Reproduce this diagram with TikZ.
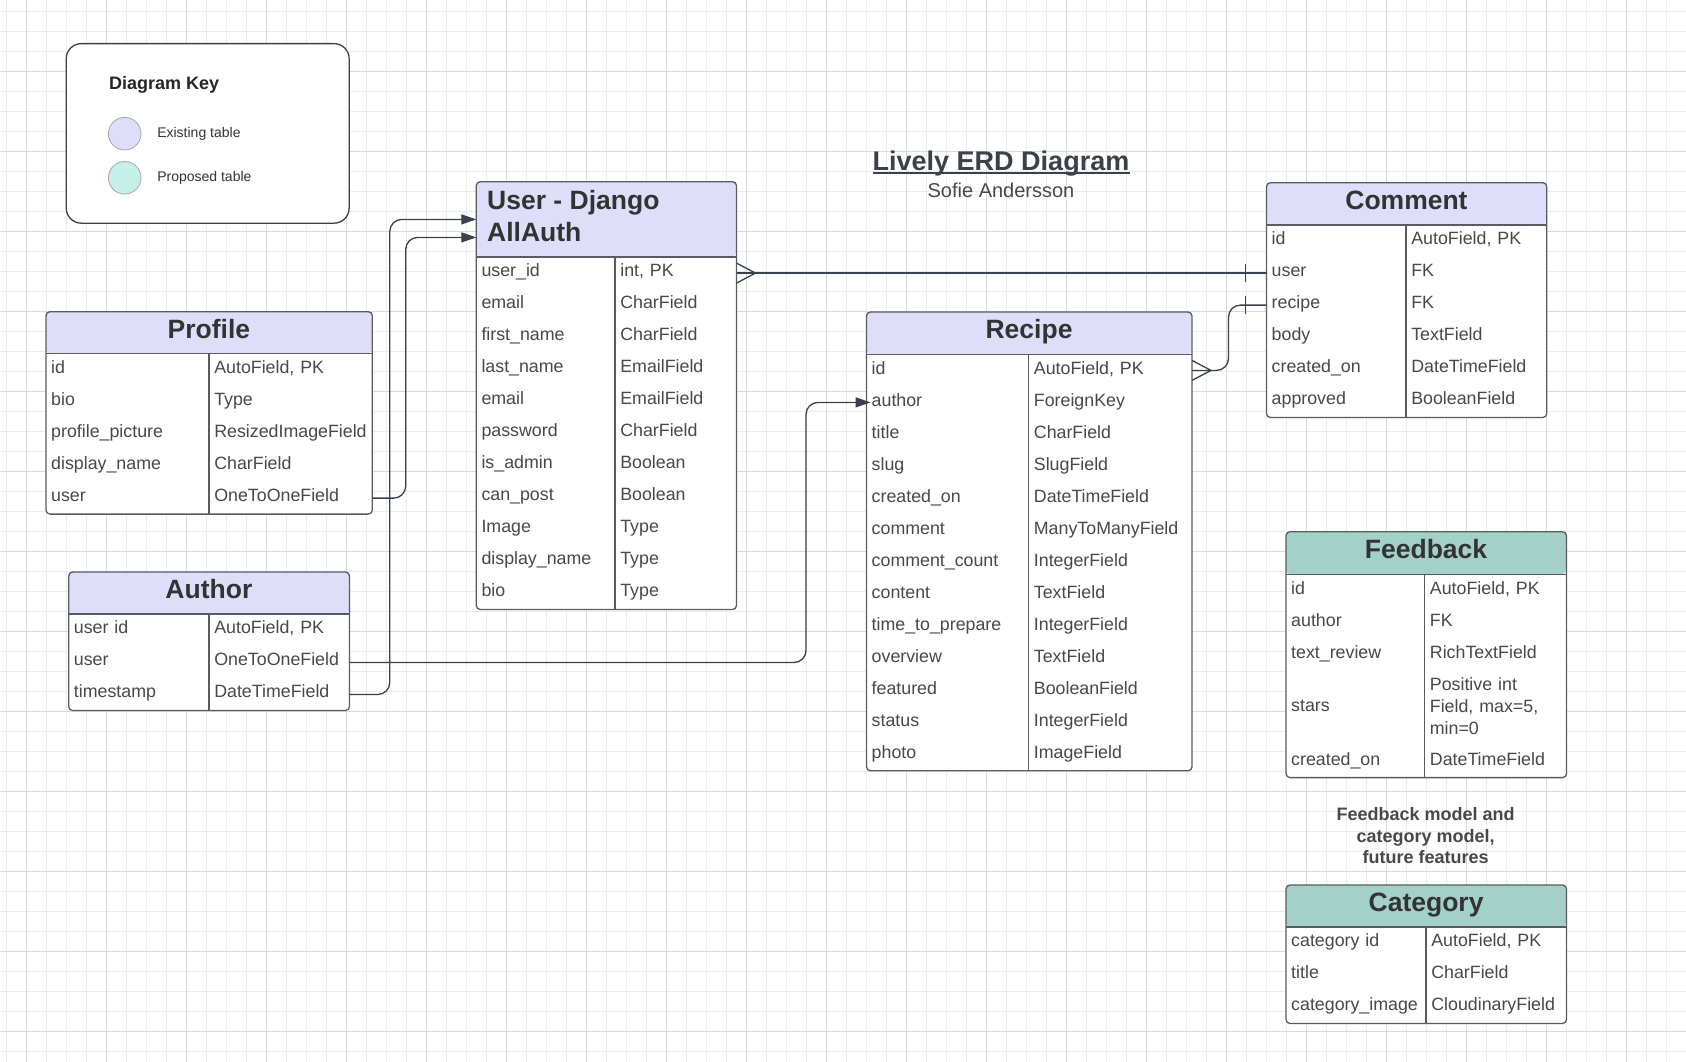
\documentclass[tikz,border=0pt]{standalone}
\usepackage{fontspec}
\setmainfont{Liberation Sans}
\usepackage{tikz}
\usetikzlibrary{arrows.meta}
\usetikzlibrary{positioning}
\definecolor{oldHead}{RGB}{222,222,250}
\definecolor{newHead}{RGB}{163,208,200}
\definecolor{newDot}{RGB}{196,240,232}
\definecolor{lineDark}{RGB}{58,65,74}
\definecolor{rimGray}{RGB}{88,92,98}
\definecolor{textDark}{RGB}{51,51,51}
\definecolor{textGray}{RGB}{72,72,72}
\definecolor{gridMinor}{RGB}{236,236,236}
\definecolor{gridMajor}{RGB}{218,218,218}
\newcommand{\headfont}{\fontsize{26.5}{31.7}\selectfont\bfseries}
\newcommand{\fieldfont}{\fontsize{17.8}{32}\selectfont\hyphenpenalty=10000\relax}
\newcommand{\rowstrut}{\rule[-12.4pt]{0pt}{32pt}}
\tikzstyle{headbox} = [rounded corners=4pt, inner sep=0pt, anchor=north west, font=\headfont, text=textDark]
\tikzstyle{oldhead} = [headbox, fill=oldHead, text height=19pt, text depth=8pt]
\tikzstyle{newhead} = [headbox, fill=newHead, text height=19pt, text depth=8pt]
\tikzstyle{cellbox} = [fill=white, inner xsep=5pt, inner ysep=0pt, anchor=north west, align=left, text=textGray]
\tikzstyle{fields} = [cellbox, font=\fieldfont, execute at begin node=\rowstrut, execute at end node=\rowstrut]
\tikzstyle{tablerim} = [draw=rimGray, line width=1.3pt, rounded corners=4pt]
\tikzstyle{divider} = [draw=rimGray, line width=1.3pt]
\tikzstyle{link} = [draw=lineDark, line width=1.3pt]
\tikzstyle{arrowlink} = [link, rounded corners=12pt, -{Triangle[length=15pt,width=10pt]}]
\tikzstyle{keydot} = [circle, draw=black!35, line width=0.8pt, minimum size=32.6pt]
\tikzstyle{keytext} = [font=\fontsize{14}{17}\selectfont, text=textDark]
\tikzset{
  crowfoot/.pic={\draw[link] (0,-10) -- (19,0) -- (0,10);},
  onebar/.pic={\draw[link] (0,-9) -- (0,9);}
}

\begin{document}
\begin{tikzpicture}[x=1pt, y=-1pt, every node/.style={inner sep=0pt}]
% background and grid
\fill[white] (0,0) rectangle (1686,1062);
\useasboundingbox (0,0) rectangle (1686,1062);
\foreach \gx in {6.7,26.7,...,1686} \draw[gridMinor, line width=1pt] (\gx,0) -- (\gx,1062);
\foreach \gy in {11.7,31.7,...,1062} \draw[gridMinor, line width=1pt] (0,\gy) -- (1686,\gy);
\foreach \gx in {26.7,106.7,...,1686} \draw[gridMajor, line width=1.2pt] (\gx,0) -- (\gx,1062);
\foreach \gy in {71.7,151.7,...,1062} \draw[gridMajor, line width=1.2pt] (0,\gy) -- (1686,\gy);

% diagram key
\node[draw=lineDark, line width=1.3pt, rounded corners=15pt, fill=white, minimum width=282.9pt, minimum height=179.5pt, anchor=north west] (key) at (65.6,43) {};
\node[font=\fontsize{18}{22}\selectfont\bfseries, text=black!85, anchor=base west] (key-title) at (109,89.3) {Diagram Key};
\node[keydot, fill=oldHead] (old-dot) at (124.7,133.7) {};
\node[keydot, fill=newDot, below=10.7pt of old-dot] (new-dot) {};
\node[keytext, right=15.7pt of old-dot] (old-label) {Existing table};
\node[keytext, right=15.7pt of new-dot] (new-label) {Proposed table};

% title
\node[font=\fontsize{27}{32}\selectfont\bfseries, text=lineDark, anchor=base] (title) at (1001,170.7) {Lively ERD Diagram};
\draw[lineDark, line width=1.6pt] ([yshift=-2.3pt]title.base west) -- ([yshift=-2.3pt]title.base east);
\node[font=\fontsize{20}{24}\selectfont, text=textGray, anchor=base] (byline) at (1001,197.3) {Sofie Andersson};

% user
\node[headbox, fill=oldHead, minimum width=259.4pt, minimum height=75pt] (user) at (476.3,181.7) {};
\node[font=\headfont, text=textDark, align=left, anchor=north west] (user-title) at ([xshift=10.7pt,yshift=-8.8pt]user.north west) {User - Django\\AllAuth};
\node[fields, text width=128.4pt] (user-names) at (user.south west) {user\_id\\email\\first\_name\\last\_name\\email\\password\\is\_admin\\can\_post\\Image\\display\_name\\bio};
\node[fields, text width=111pt] (user-types) at (user-names.north east) {int, PK\\CharField\\CharField\\EmailField\\EmailField\\CharField\\Boolean\\Boolean\\Type\\Type\\Type};
\draw[tablerim] (user.north west) rectangle (user-types.south east);
\draw[divider] (user.south west) -- (user.south east) (user-types.north west) -- (user-types.south west);

% comment
\node[oldhead, minimum width=279.5pt, minimum height=42pt] (comment) at (1266.5,182.7) {Comment};
\node[fields, text width=129.2pt] (com-names) at (comment.south west) {id\\user\\recipe\\body\\created\_on\\approved};
\node[fields, text width=130.3pt] (com-types) at (com-names.north east) {AutoField, PK\\FK\\FK\\TextField\\DateTimeField\\BooleanField};
\draw[tablerim] (comment.north west) rectangle (com-types.south east);
\draw[divider] (comment.south west) -- (comment.south east) (com-types.north west) -- (com-types.south west);

% profile
\node[oldhead, minimum width=325.5pt, minimum height=41.6pt] (profile) at (46,311.7) {Profile};
\node[fields, text width=152.7pt] (prof-names) at (profile.south west) {id\\bio\\profile\_picture\\display\_name\\user};
\node[fields, text width=152.8pt] (prof-types) at (prof-names.north east) {AutoField, PK\\Type\\ResizedImageField\\CharField\\OneToOneField};
\draw[tablerim] (profile.north west) rectangle (prof-types.south east);
\draw[divider] (profile.south west) -- (profile.south east) (prof-types.north west) -- (prof-types.south west);

% author
\node[oldhead, minimum width=280pt, minimum height=41.7pt] (author) at (68.7,572) {Author};
\node[fields, text width=130pt] (auth-names) at (author.south west) {user id\\user\\timestamp};
\node[fields, text width=130pt] (auth-types) at (auth-names.north east) {AutoField, PK\\OneToOneField\\DateTimeField};
\draw[tablerim] (author.north west) rectangle (auth-types.south east);
\draw[divider] (author.south west) -- (author.south east) (auth-types.north west) -- (auth-types.south west);

% recipe
\node[oldhead, minimum width=324.7pt, minimum height=42pt] (recipe) at (866.5,312) {Recipe};
\node[fields, text width=151.8pt] (rec-names) at (recipe.south west) {id\\author\\title\\slug\\created\_on\\comment\\comment\_count\\content\\time\_to\_prepare\\overview\\featured\\status\\photo};
\node[fields, text width=152.9pt] (rec-types) at (rec-names.north east) {AutoField, PK\\ForeignKey\\CharField\\SlugField\\DateTimeField\\ManyToManyField\\IntegerField\\TextField\\IntegerField\\TextField\\BooleanField\\IntegerField\\ImageField};
\draw[tablerim] (recipe.north west) rectangle (rec-types.south east);
\draw[divider] (recipe.south west) -- (recipe.south east) (rec-types.north west) -- (rec-types.south west);

% feedback
\node[newhead, minimum width=279.7pt, minimum height=42.3pt] (feedback) at (1286,531.7) {Feedback};
\node[fields, text width=128.3pt] (fb-names) at (feedback.south west) {id\\author\\text\_review};
\node[fields, text width=128.3pt, minimum height=74pt] (fb-stars) at (fb-names.south west) {stars};
\node[fields, text width=128.3pt] (fb-created) at (fb-stars.south west) {created\_on};
\node[fields, text width=131.4pt] (fb-types) at (fb-names.north east) {AutoField, PK\\FK\\RichTextField};
\node[cellbox, text width=131.4pt, minimum height=74pt, font=\fontsize{17.8}{21.7}\selectfont, execute at begin node=\strut, execute at end node=\strut] (fb-range) at (fb-types.south west) {Positive int\\Field, max=5,\\min=0};
\node[fields, text width=131.4pt] (fb-date) at (fb-range.south west) {DateTimeField};
\draw[tablerim] (feedback.north west) rectangle (fb-date.south east);
\draw[divider] (feedback.south west) -- (feedback.south east) (fb-types.north west) -- (fb-date.south west);

\node[font=\fontsize{18}{21.7}\selectfont\bfseries, text=textGray, align=center, execute at begin node=\strut, execute at end node=\strut] (future-note) at (1425.7,839) {Feedback model and\\category model,\\future features};

% category
\node[newhead, minimum width=279.7pt, minimum height=41.7pt] (category) at (1286,885) {Category};
\node[fields, text width=129.7pt] (cat-names) at (category.south west) {category id\\title\\category\_image};
\node[fields, text width=130pt] (cat-types) at (cat-names.north east) {AutoField, PK\\CharField\\CloudinaryField};
\draw[tablerim] (category.north west) rectangle (cat-types.south east);
\draw[divider] (category.south west) -- (category.south east) (cat-types.north west) -- (cat-types.south west);

% relations
\draw[arrowlink] ([yshift=16pt]prof-types.south east) -| ([xshift=-70.6pt,yshift=-18pt]user.west) -- ([yshift=-18pt]user.west);
\draw[arrowlink] ([yshift=16pt]auth-types.south east) -| ([xshift=-86.5pt]user.west) -- (user.west);
\draw[arrowlink] ([yshift=48pt]auth-types.south east) -| ([xshift=-60.5pt,yshift=-48pt]rec-names.north west) -- ([xshift=4pt,yshift=-48pt]rec-names.north west);
\draw[link] ([yshift=-16pt]user-types.north east) -- ([yshift=-48pt]com-names.north west);
\pic at ([yshift=-16pt]user-types.north east) {crowfoot};
\pic at ([xshift=-20.8pt,yshift=-48pt]com-names.north west) {onebar};
\draw[link, rounded corners=12pt] ([yshift=-16pt]rec-types.north east) -| ([xshift=-38pt,yshift=-80pt]com-names.north west) -- ([yshift=-80pt]com-names.north west);
\pic at ([yshift=-16pt]rec-types.north east) {crowfoot};
\pic at ([xshift=-20.8pt,yshift=-80pt]com-names.north west) {onebar};
\end{tikzpicture}
\end{document}
